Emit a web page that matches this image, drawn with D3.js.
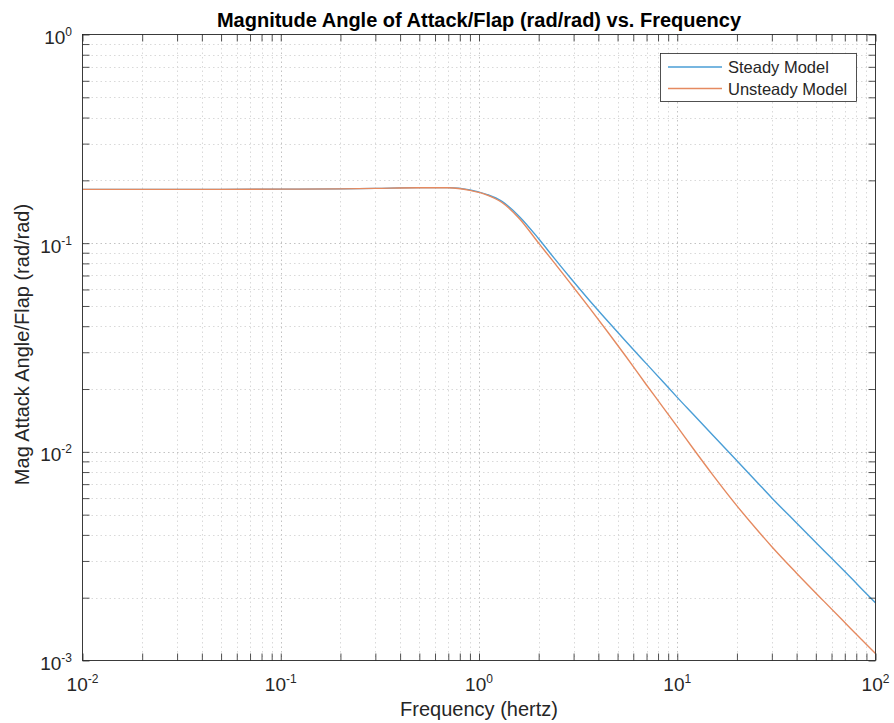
<!DOCTYPE html>
<html>
<head>
<meta charset="utf-8">
<script src="https://cdn.jsdelivr.net/npm/d3@7"></script>
<style>
  body { margin: 0; background: #fff; }
  text { font-family: "Liberation Sans", Arial, Helvetica, sans-serif; }
</style>
</head>
<body>
<div id="chart"></div>
<script>
// frequencies (hertz) the curves are read at
var freq = [0.01, 0.03, 0.1, 0.2, 0.3, 0.5, 0.7, 0.9, 1.1, 1.3, 1.6, 2, 2.4, 2.9, 3.6,
    4.5, 5.5, 7, 8.5, 10, 12, 15, 20, 25, 30, 40, 55, 70, 85, 100];
// magnitude (rad/rad)
var steadyMag = [0.181, 0.181, 0.1815, 0.182, 0.183, 0.1845, 0.1845, 0.180, 0.171, 0.159,
    0.134, 0.105, 0.0845, 0.0679, 0.0533, 0.0419, 0.0339, 0.0264, 0.0216, 0.01824, 0.01517,
    0.01211, 0.00906, 0.00723, 0.00601, 0.00456, 0.00336, 0.00267, 0.00221, 0.00189];
var unsteadyMag = [0.181, 0.181, 0.1815, 0.182, 0.183, 0.1843, 0.1842, 0.179, 0.170, 0.157,
    0.131, 0.100, 0.0805, 0.064, 0.0491, 0.0371, 0.0287, 0.0209, 0.0163, 0.0132, 0.0104,
    0.00782, 0.00551, 0.00428, 0.00351, 0.00262, 0.00192, 0.00152, 0.00126, 0.00108];

var seriesNames = ["Steady Model", "Unsteady Model"];
var seriesColors = ["#4a9ed6", "#e58a60"];

var xTickVals = [0.01, 0.1, 1, 10, 100];
var xTickExp = ["-2", "-1", "0", "1", "2"];
var yTickVals = [0.001, 0.01, 0.1, 1];
var yTickExp = ["-3", "-2", "-1", "0"];

var titleText = "Magnitude Angle of Attack/Flap (rad/rad) vs. Frequency";
var xLabel = "Frequency (hertz)";
var yLabel = "Mag Attack Angle/Flap (rad/rad)";

function drawChart() {
    var W = 894, H = 723;
    var left = 82.5, right = 875.5, top = 34.5, bottom = 660.5;
    var axisColor = "#262626";

    var svg = d3.select("#chart").append("svg")
        .attr("width", W)
        .attr("height", H);

    var x = d3.scaleLog().domain([0.01, 100]).range([left, right]);
    var y = d3.scaleLog().domain([0.001, 1]).range([bottom, top]);

    var xAll = x.ticks();
    var yAll = y.ticks();

    // grid (minor + major, dotted)
    var grid = svg.append("g");
    grid.selectAll(".gx")
        .data(xAll.filter(function (d) { return d > 0.01 && d < 100; }))
        .enter().append("line")
        .attr("x1", function (d) { return Math.round(x(d)) + 0.5; })
        .attr("x2", function (d) { return Math.round(x(d)) + 0.5; })
        .attr("y1", top)
        .attr("y2", bottom)
        .attr("stroke", function (d) { return xTickVals.indexOf(d) >= 0 ? "#c2c2c2" : "#d9d9d9"; })
        .attr("stroke-width", 1)
        .attr("stroke-dasharray", "1.5,3");
    grid.selectAll(".gy")
        .data(yAll.filter(function (d) { return d > 0.001 && d < 1; }))
        .enter().append("line")
        .attr("y1", function (d) { return Math.round(y(d)) + 0.5; })
        .attr("y2", function (d) { return Math.round(y(d)) + 0.5; })
        .attr("x1", left)
        .attr("x2", right)
        .attr("stroke", function (d) { return yTickVals.indexOf(d) >= 0 ? "#c2c2c2" : "#d9d9d9"; })
        .attr("stroke-width", 1)
        .attr("stroke-dasharray", "1.5,3");

    // curves
    svg.append("clipPath").attr("id", "plotClip")
        .append("rect")
        .attr("x", left).attr("y", top)
        .attr("width", right - left).attr("height", bottom - top);

    var line = d3.line()
        .curve(d3.curveMonotoneX)
        .x(function (d) { return x(d[0]); })
        .y(function (d) { return y(d[1]); });

    [steadyMag, unsteadyMag].forEach(function (mag, i) {
        svg.append("path")
            .datum(freq.map(function (f, k) { return [f, mag[k]]; }))
            .attr("clip-path", "url(#plotClip)")
            .attr("fill", "none")
            .attr("stroke", seriesColors[i])
            .attr("stroke-width", 1.4)
            .attr("d", line);
    });

    // ticks on all four sides, pointing inwards
    function tickAxis(axis, tx, ty) {
        var g = svg.append("g")
            .attr("transform", "translate(" + tx + "," + ty + ")")
            .call(axis);
        g.select(".domain").remove();
        g.selectAll("line").attr("stroke", axisColor).attr("stroke-width", 0.8);
    }
    tickAxis(d3.axisBottom(x).tickValues(xAll).tickSize(-7).tickFormat(""), 0, bottom);
    tickAxis(d3.axisTop(x).tickValues(xAll).tickSize(-7).tickFormat(""), 0, top);
    tickAxis(d3.axisLeft(y).tickValues(yAll).tickSize(-7).tickFormat(""), left, 0);
    tickAxis(d3.axisRight(y).tickValues(yAll).tickSize(-7).tickFormat(""), right, 0);

    svg.append("rect")
        .attr("x", left).attr("y", top)
        .attr("width", right - left).attr("height", bottom - top)
        .attr("fill", "none")
        .attr("stroke", axisColor)
        .attr("stroke-width", 0.9);

    // tick labels 10^n
    xTickVals.forEach(function (v, i) {
        var t = svg.append("text")
            .attr("x", x(v))
            .attr("y", 691)
            .attr("text-anchor", "middle")
            .attr("fill", axisColor)
            .style("font-size", "19px");
        t.append("tspan").text("10");
        t.append("tspan").attr("dy", "-8").style("font-size", "12px").text(xTickExp[i]);
    });
    yTickVals.forEach(function (v, i) {
        var t = svg.append("text")
            .attr("x", 72)
            .attr("y", y(v) + 9.5)
            .attr("text-anchor", "end")
            .attr("fill", axisColor)
            .style("font-size", "19px");
        t.append("tspan").text("10");
        t.append("tspan").attr("dy", "-8").style("font-size", "12px").text(yTickExp[i]);
    });

    // title and axis labels
    svg.append("text")
        .attr("x", (left + right) / 2)
        .attr("y", 26.5)
        .attr("text-anchor", "middle")
        .attr("fill", "#000")
        .style("font-size", "20px")
        .style("font-weight", "bold")
        .text(titleText);

    svg.append("text")
        .attr("x", (left + right) / 2)
        .attr("y", 716)
        .attr("text-anchor", "middle")
        .attr("fill", axisColor)
        .style("font-size", "20px")
        .text(xLabel);

    svg.append("text")
        .attr("transform", "translate(29," + ((top + bottom) / 2 - 3) + ") rotate(-90)")
        .attr("text-anchor", "middle")
        .attr("fill", axisColor)
        .style("font-size", "20px")
        .text(yLabel);

    // legend
    var lg = svg.append("g");
    lg.append("rect")
        .attr("x", 660.5).attr("y", 53.5)
        .attr("width", 196).attr("height", 48)
        .attr("fill", "#fff")
        .attr("stroke", axisColor)
        .attr("stroke-width", 0.8);
    seriesNames.forEach(function (name, i) {
        var ly = 67 + i * 21.5;
        lg.append("line")
            .attr("x1", 668).attr("x2", 722)
            .attr("y1", ly).attr("y2", ly)
            .attr("stroke", seriesColors[i])
            .attr("stroke-width", 1.4);
        lg.append("text")
            .attr("x", 728)
            .attr("y", ly + 6)
            .attr("fill", axisColor)
            .style("font-size", "16.5px")
            .text(name);
    });
}

drawChart();
</script>
</body>
</html>
